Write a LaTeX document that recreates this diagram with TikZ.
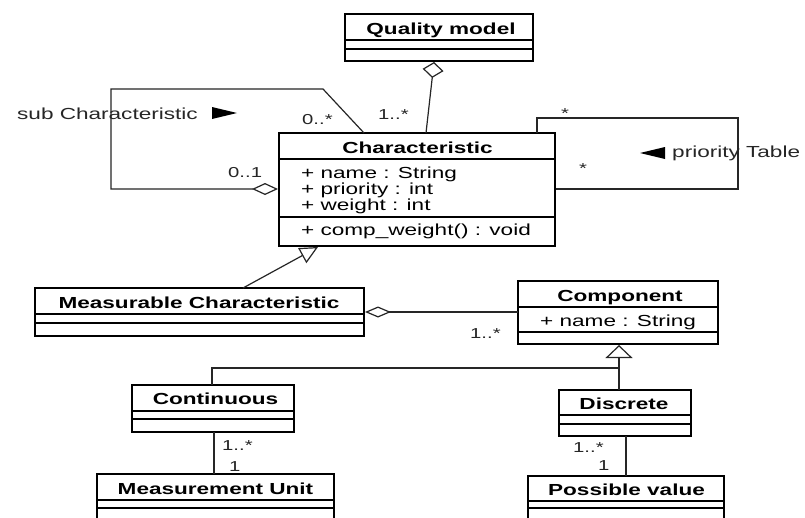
\documentclass[tikz,border=0pt]{standalone}
\usepackage{fontspec}
\setmainfont{Liberation Sans}[FakeStretch=1.41]
\usetikzlibrary{arrows.meta}
\begin{document}
\begin{tikzpicture}[x=1pt,y=-1pt,
 box/.style={draw=black, line width=2.4pt, anchor=north west, inner sep=0pt, outer sep=0pt},
 sepline/.style={line width=1.1pt, draw=black},
 ttl/.style={font=\fontsize{16}{16}\selectfont\bfseries, anchor=base, inner sep=0pt},
 attr/.style={font=\fontsize{16}{16}\selectfont, anchor=base west, inner sep=0pt},
 lbl/.style={font=\fontsize{14.4}{14.4}\selectfont, text=black!85, anchor=base west, inner sep=0pt},
 lblc/.style={font=\fontsize{14.4}{14.4}\selectfont, text=black!85, anchor=base, inner sep=0pt},
 conn/.style={line width=1.2pt, draw=black!85},
]
\clip (0,0) rectangle (805,517);
\fill[white] (0,0) rectangle (805,517);

% ---------- Quality model
\node[box, minimum width=188pt, minimum height=47pt] (qm) at (345,14) {};
\node[ttl] (qmT) at (441,34) {Quality model};
\draw[sepline] (345,40) -- (533,40);
\draw[sepline] (345,49) -- (533,49);

% ---------- Characteristic
\node[box, minimum width=276pt, minimum height=113pt] (ch) at (279,133) {};
\node[ttl] (chT) at (417.5,153) {Characteristic};
\draw[sepline] (279,159) -- (555,159);
\node[attr] (chA1) at (301,178) {+ name : String};
\node[attr] (chA2) at (301,194) {+ priority : int};
\node[attr] (chA3) at (301,210) {+ weight : int};
\draw[sepline] (279,217) -- (555,217);
\node[attr] (chM1) at (301,235) {+ comp\_weight() : void};

% ---------- Measurable Characteristic
\node[box, minimum width=329pt, minimum height=48pt] (mc) at (35,288) {};
\node[ttl] (mcT) at (199,308) {Measurable Characteristic};
\draw[sepline] (35,314) -- (364,314);
\draw[sepline] (35,323) -- (364,323);

% ---------- Component
\node[box, minimum width=200pt, minimum height=63pt] (comp) at (518,281) {};
\node[ttl] (compT) at (620,301) {Component};
\draw[sepline] (518,307) -- (718,307);
\node[attr] (compA1) at (540,326) {+ name : String};
\draw[sepline] (518,332) -- (718,332);

% ---------- Continuous
\node[box, minimum width=162pt, minimum height=47pt] (cont) at (132,385) {};
\node[ttl] (contT) at (215.5,404) {Continuous};
\draw[sepline] (132,411) -- (294,411);
\draw[sepline] (132,419) -- (294,419);

% ---------- Discrete
\node[box, minimum width=132pt, minimum height=46pt] (disc) at (559,390) {};
\node[ttl] (discT) at (624,409) {Discrete};
\draw[sepline] (559,415) -- (691,415);
\draw[sepline] (559,424) -- (691,424);

% ---------- Measurement Unit
\node[box, minimum width=237pt, minimum height=60pt] (mu) at (97,474) {};
\node[ttl] (muT) at (215.5,494) {Measurement Unit};
\draw[sepline] (97,500) -- (334,500);
\draw[sepline] (97,508) -- (334,508);

% ---------- Possible value
\node[box, minimum width=196pt, minimum height=58pt] (pv) at (528,476) {};
\node[ttl] (pvT) at (626.5,495) {Possible value};
\draw[sepline] (528,501) -- (724,501);
\draw[sepline] (528,508) -- (724,508);

% ---------- connection points
\coordinate (qmD) at (434,62);
\coordinate (chTop) at (426,133);
\coordinate (chSubTop) at (364,133);
\coordinate (chSubLeft) at (278,189);
\coordinate (chPrTop) at (537,133);
\coordinate (chPrRight) at (556,189);
\coordinate (chBot) at (318,247);
\coordinate (mcTop) at (243,288);
\coordinate (mcRight) at (365,312);
\coordinate (compLeft) at (518,312);
\coordinate (compBot) at (619,345);
\coordinate (discTop) at (619,390);
\coordinate (contTop) at (212,385);
\coordinate (contBot) at (214,432);
\coordinate (muTop) at (214,474);
\coordinate (discBot) at (626,436);
\coordinate (pvTop) at (626,476);

% ---------- connectors
\draw[conn, {Diamond[length=16pt,width=21pt,fill=white]}-] (qmD) -- (chTop);
\draw[conn, -{Diamond[length=26pt,width=12pt,fill=white]}]
  (chSubTop) -- (323,89) -- (111,89) -- (111,189) -- (chSubLeft);
\draw[conn] (chPrTop) -- (537,118) -- (738,118) -- (738,189) -- (chPrRight);
\draw[conn, -{Triangle[length=18pt,width=17pt,fill=white]}] (mcTop) -- (chBot);
\draw[conn, {Diamond[length=26pt,width=11pt,fill=white]}-] (mcRight) -- (compLeft);
\draw[conn, -{Triangle[length=13pt,width=27pt,fill=white]}] (discTop) -- (compBot);
\draw[conn] (contTop) -- (212,368) -- (619,368);
\draw[conn] (contBot) -- (muTop);
\draw[conn] (discBot) -- (pvTop);

% ---------- direction markers
\fill[black] (212,107) -- (237,113) -- (212,119) -- cycle;
\fill[black] (665,147) -- (640,153) -- (665,159) -- cycle;

% ---------- labels
\node[lbl, font=\fontsize{16}{16}\selectfont] (subL) at (17,119) {sub Characteristic};
\node[lbl, font=\fontsize{16}{16}\selectfont] (prL) at (672,157) {priority Table};
\node[lbl] (l0s) at (302,124) {0..*};
\node[lbl] (l01) at (228,177) {0..1};
\node[lbl] (l1s) at (378,119) {1..*};
\node[lblc] (st1) at (565,118) {*};
\node[lblc] (st2) at (583,173) {*};
\node[lbl] (lmc) at (470,338) {1..*};
\node[lbl] (lc1) at (222,450) {1..*};
\node[lbl] (lc2) at (229,471) {1};
\node[lbl] (ld1) at (573,452) {1..*};
\node[lbl] (ld2) at (598,470) {1};
\end{tikzpicture}
\end{document}
